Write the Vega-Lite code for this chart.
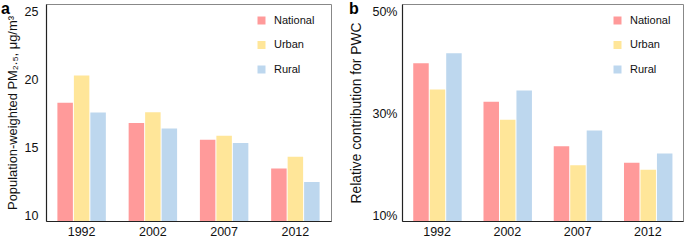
{
  "$schema": "https://vega.github.io/schema/vega-lite/v6.json",
  "padding": {"left": 0, "top": 0, "right": 3, "bottom": 0},
  "config": {
    "font": "Liberation Sans",
    "view": {"stroke": "#888888", "strokeWidth": 1},
    "axis": {"domainColor": "#222222", "domainWidth": 1.2, "ticks": false, "grid": false, "labelFont": "Liberation Sans", "labelFontSize": 12.5, "labelColor": "#111111", "titleFont": "Liberation Sans", "titleFontSize": 13.8, "titleFontWeight": "normal", "titleColor": "#111111"},
    "legend": {"labelFont": "Liberation Sans", "labelFontSize": 11, "labelColor": "#111111", "symbolType": "square", "symbolSize": 64, "symbolStrokeWidth": 0, "rowPadding": 12.5, "labelOffset": 7},
    "title": {"font": "Liberation Sans", "fontSize": 16, "fontWeight": "bold", "anchor": "start", "frame": "group", "color": "#000000"}
  },
  "data": {"values": [
    {"year": "1992", "group": "National", "pm": 18.3, "pwc": 0.398},
    {"year": "1992", "group": "Urban", "pm": 20.3, "pwc": 0.347},
    {"year": "1992", "group": "Rural", "pm": 17.57, "pwc": 0.418},
    {"year": "2002", "group": "National", "pm": 16.8, "pwc": 0.323},
    {"year": "2002", "group": "Urban", "pm": 17.6, "pwc": 0.288},
    {"year": "2002", "group": "Rural", "pm": 16.4, "pwc": 0.345},
    {"year": "2007", "group": "National", "pm": 15.57, "pwc": 0.236},
    {"year": "2007", "group": "Urban", "pm": 15.86, "pwc": 0.199},
    {"year": "2007", "group": "Rural", "pm": 15.33, "pwc": 0.267},
    {"year": "2012", "group": "National", "pm": 13.45, "pwc": 0.204},
    {"year": "2012", "group": "Urban", "pm": 14.33, "pwc": 0.19},
    {"year": "2012", "group": "Rural", "pm": 12.46, "pwc": 0.222}
  ]},
  "spacing": 16,
  "hconcat": [
    {
      "title": {"text": "a", "dx": -45, "offset": -13},
      "width": 285,
      "height": 217,
      "mark": {"type": "bar", "clip": true},
      "encoding": {
        "x": {"field": "year", "type": "nominal", "title": null, "scale": {"paddingInner": 0.32, "paddingOuter": 0.16}, "axis": {"labelAngle": 0, "labelPadding": 4}},
        "xOffset": {"field": "group", "type": "nominal", "sort": ["National", "Urban", "Rural"], "scale": {"paddingInner": 0.06}},
        "y": {"field": "pm", "type": "quantitative", "title": "Population-weighted PM₂.₅, μg/m³", "scale": {"domain": [9.6, 25.55], "nice": false, "zero": false}, "axis": {"values": [10, 15, 20, 25], "labelPadding": 8, "titlePadding": 5, "titleFontSize": 12.9}},
        "color": {"field": "group", "type": "nominal", "sort": ["National", "Urban", "Rural"], "scale": {"domain": ["National", "Urban", "Rural"], "range": ["#ff9a9a", "#ffe699", "#bdd7ee"]}, "legend": {"title": null, "orient": "none", "legendX": 210, "legendY": 11}}
      }
    },
    {
      "title": {"text": "b", "dx": -53, "offset": -13},
      "width": 281,
      "height": 217,
      "mark": {"type": "bar", "clip": true},
      "encoding": {
        "x": {"field": "year", "type": "nominal", "title": null, "scale": {"paddingInner": 0.32, "paddingOuter": 0.16}, "axis": {"labelAngle": 0, "labelPadding": 4}},
        "xOffset": {"field": "group", "type": "nominal", "sort": ["National", "Urban", "Rural"], "scale": {"paddingInner": 0.06}},
        "y": {"field": "pwc", "type": "quantitative", "title": "Relative contribution for PWC", "scale": {"domain": [0.09, 0.514], "nice": false, "zero": false}, "axis": {"values": [0.1, 0.3, 0.5], "format": ".0%", "labelPadding": 5, "titlePadding": 8}},
        "color": {"field": "group", "type": "nominal", "sort": ["National", "Urban", "Rural"], "scale": {"domain": ["National", "Urban", "Rural"], "range": ["#ff9a9a", "#ffe699", "#bdd7ee"]}, "legend": {"title": null, "orient": "none", "legendX": 210, "legendY": 11}}
      }
    }
  ],
  "resolve": {"legend": {"color": "independent"}, "scale": {"y": "independent"}}
}
